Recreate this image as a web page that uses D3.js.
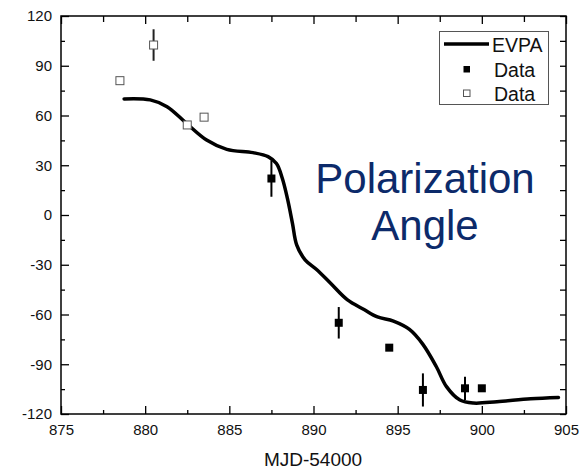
<!DOCTYPE html>
<html lang="en">
<head>
<meta charset="UTF-8">
<title>Polarization Angle</title>
<script src="https://d3js.org/d3.v7.min.js"></script>
<style>
    body { margin: 0; background: #fff; }
    svg { font-family: "Liberation Sans", Arial, sans-serif; }
</style>
</head>
<body>
<svg id="chart" width="582" height="471"></svg>
<script>
// EVPA model curve
var curveX = [878.75, 880.3, 881.3, 882.45, 883.65, 884.85, 886.4, 887.3, 887.8, 888.15, 888.45, 888.75, 889.0, 889.5, 890.2, 891.0, 892.0, 893.0, 893.8, 894.75, 895.7, 896.5, 897.3, 897.9, 898.7, 899.5, 900.9, 902.9, 904.55];
var curveY = [70, 69.4, 65.3, 55.3, 45.2, 39.6, 37.6, 35.2, 31, 22, 10, -5, -18, -27, -33, -41, -51, -57, -61.5, -64, -69, -78, -91.5, -103.5, -111.6, -113.4, -112.6, -110.8, -110];

// filled squares
var filledX = [887.5, 891.5, 894.5, 896.5, 899.0, 900.0];
var filledY = [22, -65, -80, -105.5, -104.5, -104.5];
var filledErr = [11, 9.5, 0, 10, 7, 0];

// open squares
var openX = [878.5, 880.5, 882.5, 883.5];
var openY = [81, 102.5, 54.3, 59];
var openErr = [0, 9.5, 0, 0];

var xMajor = [875, 880, 885, 890, 895, 900, 905];
var yMajor = [-120, -90, -60, -30, 0, 30, 60, 90, 120];
var legendLabels = ["EVPA", "Data", "Data"];

var svg = d3.select("#chart");
var pL = 61, pR = 566, pT = 16, pB = 414;

var x = d3.scaleLinear().domain([875, 905]).range([pL, pR]);
var y = d3.scaleLinear().domain([-120, 120]).range([pB, pT]);

var xMinor = d3.range(877.5, 905, 5);
var yMinor = d3.range(-105, 120, 30);

// plain hyphen for negatives, like the original
var fmt = function(d){ return String(d); };

function styleAxis(g) {
    g.select(".domain").remove();
    g.attr("font-family", "Liberation Sans, Arial, sans-serif").attr("font-size", 15);
    g.selectAll(".tick line").attr("stroke", "#000").attr("stroke-width", 1.3);
    g.selectAll(".tick text").attr("fill", "#111").attr("font-size", 15);
}

// bottom
svg.append("g").attr("transform", "translate(0," + pB + ")")
    .call(d3.axisBottom(x).tickValues(xMajor).tickFormat(fmt).tickSizeInner(-8).tickSizeOuter(0).tickPadding(10))
    .call(styleAxis);
svg.append("g").attr("transform", "translate(0," + pB + ")")
    .call(d3.axisBottom(x).tickValues(xMinor).tickFormat("").tickSizeInner(-4).tickSizeOuter(0))
    .call(styleAxis);
// top
svg.append("g").attr("transform", "translate(0," + pT + ")")
    .call(d3.axisTop(x).tickValues(xMajor).tickFormat("").tickSizeInner(-8).tickSizeOuter(0))
    .call(styleAxis);
svg.append("g").attr("transform", "translate(0," + pT + ")")
    .call(d3.axisTop(x).tickValues(xMinor).tickFormat("").tickSizeInner(-6).tickSizeOuter(0))
    .call(styleAxis);
// left
svg.append("g").attr("transform", "translate(" + pL + ",0)")
    .call(d3.axisLeft(y).tickValues(yMajor).tickFormat(fmt).tickSizeInner(-8).tickSizeOuter(0).tickPadding(9))
    .call(styleAxis);
svg.append("g").attr("transform", "translate(" + pL + ",0)")
    .call(d3.axisLeft(y).tickValues(yMinor).tickFormat("").tickSizeInner(-4).tickSizeOuter(0))
    .call(styleAxis);
// right
svg.append("g").attr("transform", "translate(" + pR + ",0)")
    .call(d3.axisRight(y).tickValues(yMajor).tickFormat("").tickSizeInner(-6).tickSizeOuter(0))
    .call(styleAxis);
svg.append("g").attr("transform", "translate(" + pR + ",0)")
    .call(d3.axisRight(y).tickValues(yMinor).tickFormat("").tickSizeInner(-6).tickSizeOuter(0))
    .call(styleAxis);

// frame
svg.append("rect")
    .attr("x", pL).attr("y", pT)
    .attr("width", pR - pL).attr("height", pB - pT)
    .attr("fill", "none").attr("stroke", "#000").attr("stroke-width", 1.5);

// x label
svg.append("text")
    .attr("x", 313).attr("y", 466)
    .attr("text-anchor", "middle")
    .attr("font-size", 19).attr("fill", "#111")
    .text("MJD-54000");

// big annotation
svg.append("text")
    .attr("x", 425).attr("y", 193)
    .attr("text-anchor", "middle")
    .attr("font-size", 42).attr("fill", "#0c2a6a")
    .text("Polarization");
svg.append("text")
    .attr("x", 425).attr("y", 240)
    .attr("text-anchor", "middle")
    .attr("font-size", 42).attr("fill", "#0c2a6a")
    .text("Angle");

// curve
var line = d3.line()
    .x(function(d){ return x(d[0]); })
    .y(function(d){ return y(d[1]); })
    .curve(d3.curveCatmullRom.alpha(0.5));
var pts = curveX.map(function(v, i){ return [v, curveY[i]]; });
svg.append("path")
    .datum(pts)
    .attr("d", line)
    .attr("fill", "none")
    .attr("stroke", "#000")
    .attr("stroke-width", 3.5)
    .attr("stroke-linecap", "round")
    .attr("stroke-linejoin", "round");

// error bars + squares
function drawSeries(xs, ys, errs, filled) {
    var g = svg.append("g");
    xs.forEach(function(xv, i){
        if (errs[i] > 0) {
            g.append("line")
                .attr("x1", x(xv)).attr("x2", x(xv))
                .attr("y1", y(ys[i] + errs[i])).attr("y2", y(ys[i] - errs[i]))
                .attr("stroke", filled ? "#000" : "#222")
                .attr("stroke-width", 2);
        }
    });
    xs.forEach(function(xv, i){
        var s = 8;
        g.append("rect")
            .attr("x", x(xv) - s / 2).attr("y", y(ys[i]) - s / 2)
            .attr("width", s).attr("height", s)
            .attr("fill", filled ? "#000" : "#fff")
            .attr("stroke", filled ? "#000" : "#555")
            .attr("stroke-width", filled ? 0 : 1);
    });
}
drawSeries(openX, openY, openErr, false);
drawSeries(filledX, filledY, filledErr, true);

// legend
var lg = svg.append("g");
lg.append("rect")
    .attr("x", 439.5).attr("y", 31.5).attr("width", 109).attr("height", 73)
    .attr("fill", "#fff").attr("stroke", "#555").attr("stroke-width", 1);
lg.append("line")
    .attr("x1", 444).attr("x2", 489).attr("y1", 44).attr("y2", 44)
    .attr("stroke", "#000").attr("stroke-width", 3.5);
lg.append("rect")
    .attr("x", 463.5).attr("y", 66).attr("width", 6.5).attr("height", 6.5)
    .attr("fill", "#000");
lg.append("rect")
    .attr("x", 463.5).attr("y", 90).attr("width", 6.5).attr("height", 6.5)
    .attr("fill", "#fff").attr("stroke", "#555").attr("stroke-width", 1);
var legendY = [51.5, 76.5, 100.5];
legendLabels.forEach(function(t, i){
    lg.append("text")
        .attr("x", i === 0 ? 492 : 494).attr("y", legendY[i])
        .attr("font-size", 19.5).attr("fill", "#111")
        .text(t);
});
</script>
</body>
</html>
